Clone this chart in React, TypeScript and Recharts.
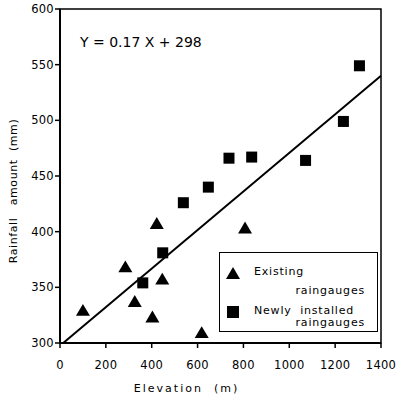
import React from "react";
import {
  ScatterChart,
  Scatter,
  XAxis,
  YAxis,
  ReferenceLine,
  ReferenceArea,
} from "recharts";

const existingGauges = [
  { x: 100, y: 328 },
  { x: 285, y: 367 },
  { x: 326, y: 336 },
  { x: 403, y: 322 },
  { x: 422, y: 406 },
  { x: 446, y: 356 },
  { x: 618, y: 308 },
  { x: 807, y: 402 },
];

const newGauges = [
  { x: 361, y: 354 },
  { x: 448, y: 381 },
  { x: 538, y: 426 },
  { x: 647, y: 440 },
  { x: 737, y: 466 },
  { x: 836, y: 467 },
  { x: 1071, y: 464 },
  { x: 1236, y: 499 },
  { x: 1306, y: 549 },
];

const fitLine = [
  { x: 14, y: 300 },
  { x: 1400, y: 540 },
];

const xTicks = [0, 200, 400, 600, 800, 1000, 1200, 1400];
const yTicks = [300, 350, 400, 450, 500, 550, 600];
const equationText = "Y = 0.17 X + 298";
const xTitle = "Elevation  (m)";
const yTitle = "Rainfall   amount  (mm)";
const legendItems = [
  { kind: "triangle", line1: "Existing", line2: "raingauges" },
  { kind: "square", line1: "Newly  installed", line2: "raingauges" },
];

const FONT = "'DejaVu Sans', sans-serif";

const Triangle = (props: any) => {
  const { cx, cy } = props;
  const s = 14;
  const h = s * 0.85;
  return (
    <polygon
      points={`${cx},${cy - (2 * h) / 3} ${cx - s / 2},${cy + h / 3} ${cx + s / 2},${cy + h / 3}`}
      fill="#000"
    />
  );
};

const Square = (props: any) => {
  const { cx, cy } = props;
  const s = 11;
  return <rect x={cx - s / 2} y={cy - s / 2} width={s} height={s} fill="#000" />;
};

const LegendBox = () => (
  <div
    style={{
      position: "absolute",
      left: 219,
      top: 252,
      border: "1.5px solid #000",
      width: 159,
      height: 80,
      boxSizing: "border-box",
      fontFamily: FONT,
      fontSize: 11,
      background: "#fff",
      color: "#000",
    }}
  >
    {legendItems.map((it, i) => (
      <div key={i} style={{ position: "absolute", left: 0, top: i === 0 ? 13 : 52, width: "100%" }}>
        <svg width={16} height={14} style={{ position: "absolute", left: 5, top: 0 }}>
          {it.kind === "triangle" ? (
            <polygon points="8,1 1,13 15,13" fill="#000" />
          ) : (
            <rect x={2} y={1} width={12} height={12} fill="#000" />
          )}
        </svg>
        <div style={{ position: "absolute", left: 34, top: -1, letterSpacing: 0.8, whiteSpace: "pre" }}>
          {it.line1}
        </div>
        <div
          style={{
            position: "absolute",
            right: 12,
            top: i === 0 ? 18 : 11,
            letterSpacing: 0.8,
            whiteSpace: "pre",
          }}
        >
          {it.line2}
        </div>
      </div>
    ))}
  </div>
);

export default function App() {
  return (
    <div style={{ position: "absolute", left: 0, top: 0, width: 400, height: 397, background: "#fff" }}>
      <ScatterChart
        width={400}
        height={397}
        margin={{ top: 9, right: 19, left: 15, bottom: 23 }}
        style={{ fontFamily: FONT }}
      >
        <XAxis
          type="number"
          dataKey="x"
          domain={[0, 1400]}
          ticks={xTicks}
          height={31}
          axisLine={{ stroke: "#000", strokeWidth: 2 }}
          tickLine={{ stroke: "#000", strokeWidth: 1.5 }}
          tickSize={5}
          tickMargin={13}
          tick={{ fill: "#000", fontSize: 11.5, letterSpacing: 0.3 }}
          label={(props: any) => {
            const vb = props.viewBox;
            const cx = vb.x + vb.width / 2 - 34;
            const cy = vb.y + 45;
            return (
              <text
                x={cx}
                y={cy}
                textAnchor="middle"
                dominantBaseline="central"
                fontSize={11}
                fill="#000"
                style={{ letterSpacing: 2, whiteSpace: "pre", fontFamily: FONT }}
              >
                {xTitle}
              </text>
            );
          }}
          allowDataOverflow
        />
        <YAxis
          type="number"
          dataKey="y"
          domain={[300, 600]}
          ticks={yTicks}
          width={45}
          axisLine={{ stroke: "#000", strokeWidth: 2 }}
          tickLine={{ stroke: "#000", strokeWidth: 1.5 }}
          tickSize={5}
          tickMargin={1}
          tick={{ fill: "#000", fontSize: 11.5, letterSpacing: 0.3 }}
          label={(props: any) => {
            const vb = props.viewBox;
            const cx = vb.x - 2;
            const cy = vb.y + vb.height / 2 + 15;
            return (
              <text
                x={cx}
                y={cy}
                transform={`rotate(-90, ${cx}, ${cy})`}
                textAnchor="middle"
                dominantBaseline="central"
                fontSize={11}
                fill="#000"
                style={{ letterSpacing: 0.6, whiteSpace: "pre", fontFamily: FONT }}
              >
                {yTitle}
              </text>
            );
          }}
          allowDataOverflow
        />
        <ReferenceArea
          x1={0}
          x2={1400}
          y1={300}
          y2={600}
          fill="none"
          stroke="#000"
          strokeWidth={1.5}
          ifOverflow="visible"
        />
        <ReferenceLine
          segment={fitLine}
          stroke="#000"
          strokeWidth={2}
          ifOverflow="visible"
        />
        <Scatter
          name="Existing raingauges"
          data={existingGauges}
          shape={Triangle}
          isAnimationActive={false}
        />
        <Scatter
          name="Newly installed raingauges"
          data={newGauges}
          shape={Square}
          isAnimationActive={false}
        />
      </ScatterChart>
      <LegendBox />
      <div
        style={{
          position: "absolute",
          left: 80,
          top: 34,
          fontFamily: FONT,
          fontSize: 14,
          whiteSpace: "pre",
          color: "#000",
        }}
      >
        {equationText}
      </div>
    </div>
  );
}
